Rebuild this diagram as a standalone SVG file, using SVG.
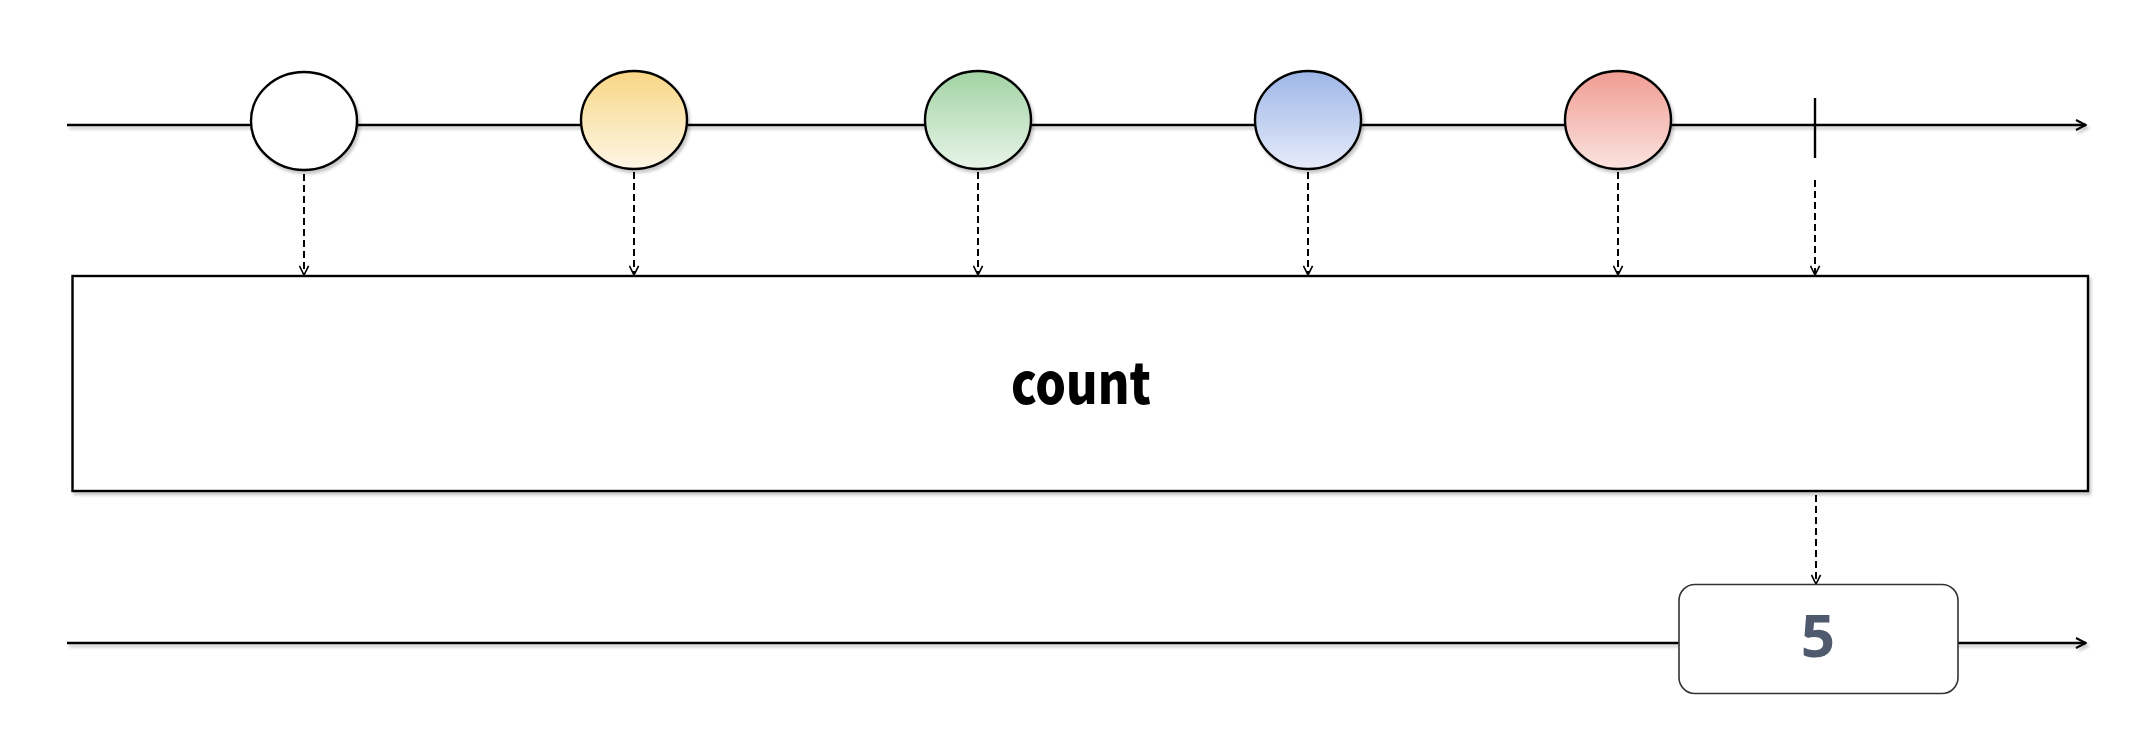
<svg xmlns="http://www.w3.org/2000/svg" width="2152" height="742" viewBox="0 0 2152 742">
<defs>
  <filter id="sh" x="-5%" y="-20%" width="110%" height="140%">
    <feDropShadow dx="2" dy="3" stdDeviation="1.5" flood-color="#000" flood-opacity="0.22"/>
  </filter>
  <filter id="shL" filterUnits="userSpaceOnUse" x="0" y="0" width="2152" height="742">
    <feDropShadow dx="2" dy="3" stdDeviation="1.5" flood-color="#000" flood-opacity="0.22"/>
  </filter>
  <marker id="open" viewBox="0 0 12 12" refX="11" refY="6" markerWidth="12" markerHeight="12" markerUnits="userSpaceOnUse" orient="auto">
    <path d="M1,1 L11,6 L1,11" fill="none" stroke="#000" stroke-width="2"/>
  </marker>
  <marker id="openS" viewBox="0 0 12 12" refX="11" refY="6" markerWidth="11" markerHeight="11" markerUnits="userSpaceOnUse" orient="auto">
    <path d="M1,1 L11,6 L1,11" fill="none" stroke="#000" stroke-width="1.8"/>
  </marker>
  <linearGradient id="gY" x1="0" y1="0" x2="0" y2="1"><stop offset="0" stop-color="#f9d684"/><stop offset="1" stop-color="#fdf6e6"/></linearGradient>
  <linearGradient id="gG" x1="0" y1="0" x2="0" y2="1"><stop offset="0" stop-color="#a2d3a4"/><stop offset="1" stop-color="#e8f4e8"/></linearGradient>
  <linearGradient id="gB" x1="0" y1="0" x2="0" y2="1"><stop offset="0" stop-color="#9db6e8"/><stop offset="1" stop-color="#e6ebf9"/></linearGradient>
  <linearGradient id="gR" x1="0" y1="0" x2="0" y2="1"><stop offset="0" stop-color="#f09c92"/><stop offset="1" stop-color="#fbe3e0"/></linearGradient>
</defs>
<style>
  .line{stroke:#000;stroke-width:2.4;fill:none}
  .dash{stroke:#000;stroke-width:2;fill:none;stroke-dasharray:7 4}
  .marble{stroke:#000;stroke-width:2.4}
  .op{fill:#fff;stroke:#000;stroke-width:2.4}
  .res{fill:#fff;stroke:#333;stroke-width:1.6}
  .lbl{font-family:"Noto Sans CJK KR","Noto Sans",sans-serif;font-weight:900;fill:#000}
  .num{font-family:"Noto Sans","Liberation Sans",sans-serif;font-weight:700;fill:#4f5a6e}
</style>
<rect width="2152" height="742" fill="#fff"/>
<g id="connectors">
  <line class="line" x1="67" y1="125" x2="2086" y2="125" marker-end="url(#open)" filter="url(#shL)"/>
  <line class="line" x1="67" y1="643" x2="2086" y2="643" marker-end="url(#open)" filter="url(#shL)"/>
  <line class="dash" x1="304" y1="174" x2="304" y2="275" marker-end="url(#openS)"/>
  <line class="dash" x1="634" y1="172" x2="634" y2="275" marker-end="url(#openS)"/>
  <line class="dash" x1="978" y1="172" x2="978" y2="275" marker-end="url(#openS)"/>
  <line class="dash" x1="1308" y1="172" x2="1308" y2="275" marker-end="url(#openS)"/>
  <line class="dash" x1="1618" y1="172" x2="1618" y2="275" marker-end="url(#openS)"/>
  <line class="dash" x1="1815" y1="180" x2="1815" y2="275" marker-end="url(#openS)"/>
  <line class="dash" x1="1816" y1="495" x2="1816" y2="584" marker-end="url(#openS)"/>
</g>
<g id="tick"><line class="line" x1="1815" y1="98" x2="1815" y2="158"/></g>
<g id="m1"><ellipse class="marble" cx="304" cy="121" rx="53" ry="49" fill="#fff" filter="url(#sh)"/></g>
<g id="m2"><ellipse class="marble" cx="634" cy="120" rx="53" ry="49" fill="url(#gY)" filter="url(#sh)"/></g>
<g id="m3"><ellipse class="marble" cx="978" cy="120" rx="53" ry="49" fill="url(#gG)" filter="url(#sh)"/></g>
<g id="m4"><ellipse class="marble" cx="1308" cy="120" rx="53" ry="49" fill="url(#gB)" filter="url(#sh)"/></g>
<g id="m5"><ellipse class="marble" cx="1618" cy="120" rx="53" ry="49" fill="url(#gR)" filter="url(#sh)"/></g>
<g id="operator">
  <rect class="op" x="72.5" y="276" width="2015.5" height="215" filter="url(#sh)"/>
  <text class="lbl" x="1081" y="404" font-size="56" text-anchor="middle" textLength="140" lengthAdjust="spacingAndGlyphs">count</text>
</g>
<g id="result">
  <rect class="res" x="1679" y="584.5" width="279" height="109" rx="16" ry="16"/>
  <text class="num" x="1818" y="657" font-size="60" text-anchor="middle">5</text>
</g>
</svg>
